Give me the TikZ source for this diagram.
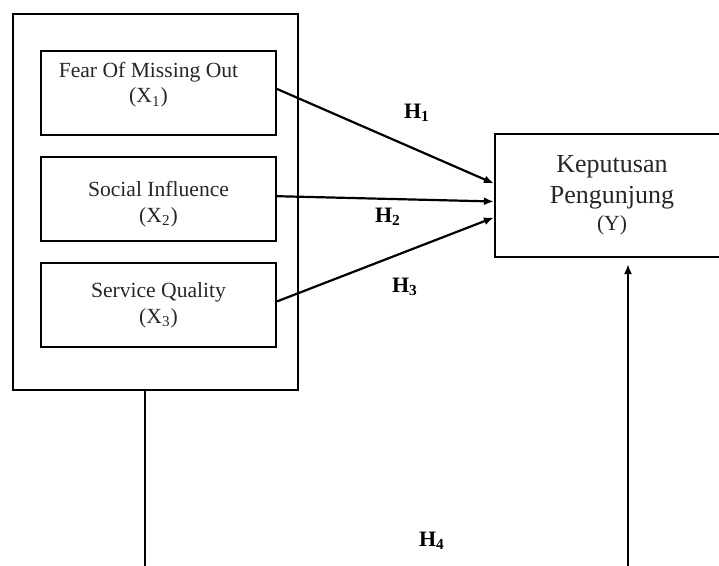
\documentclass[tikz,border=0pt]{standalone}
\usepackage{fontspec}
\setmainfont{Liberation Serif}
\usepackage{tikz}
\usetikzlibrary{arrows.meta, positioning}

\begin{document}
\begin{tikzpicture}[
  x=0.5pt, y=-0.5pt,
  frame/.style={
    rectangle, draw=black, line width=1.2pt,
    minimum width=142.5pt, minimum height=188pt,
  },
  varbox/.style={
    rectangle, draw=black, line width=1.1pt,
    minimum width=117.5pt, minimum height=42pt, align=center,
    font=\fontsize{10.8}{12.8}\selectfont, text=black!85,
  },
  depbox/.style={
    rectangle, draw=black, line width=1.1pt,
    minimum width=117pt, minimum height=61.5pt, align=center,
    font=\fontsize{13}{15.5}\selectfont, text=black!85,
  },
  hyp/.style={font=\fontsize{11}{13}\selectfont\bfseries},
  arrow/.style={-{Latex[length=5pt, width=4pt]}, line width=1.1pt, color=black},
]
\useasboundingbox (0,0) rectangle (719,566);

\node[frame] (outer) at (155.5,202) {};
\node[varbox] (fomo) at (158.5,93) {\hspace*{-10pt}Fear Of Missing Out\\\hspace*{-10pt}(X\textsubscript{1})\\[-6pt]\strut};
\node[varbox, below=10pt of fomo] (social) {\strut\\[-9pt]Social Influence\\(X\textsubscript{2})};
\node[varbox, below=10pt of social] (service) {Service Quality\\(X\textsubscript{3})};
\node[depbox] (decision) at (612,195.5) {Keputusan\\Pengunjung\\[-2pt]{\fontsize{10.8}{12}\selectfont(Y)}};

\draw[arrow] ([yshift=2pt]fomo.east) -- ([yshift=6pt]decision.west);
\draw[arrow] ([yshift=1.5pt]social.east) -- ([yshift=-3pt]decision.west);
\draw[arrow] ([yshift=2pt]service.east) -- ([yshift=-11pt]decision.west);

\node[hyp] (h1) at (417,113) {H\textsubscript{1}};
\node[hyp] (h2) at (388,217) {H\textsubscript{2}};
\node[hyp] (h3) at (405,287) {H\textsubscript{3}};
\node[hyp] (h4) at (432,541) {H\textsubscript{4}};

% moderating path, running below the frame edge
\coordinate (base) at (380,574);
\draw[arrow] ([xshift=-5.25pt]outer.south) |- (base) -| ([xshift=8pt, yshift=-3pt]decision.south);
\end{tikzpicture}
\end{document}
